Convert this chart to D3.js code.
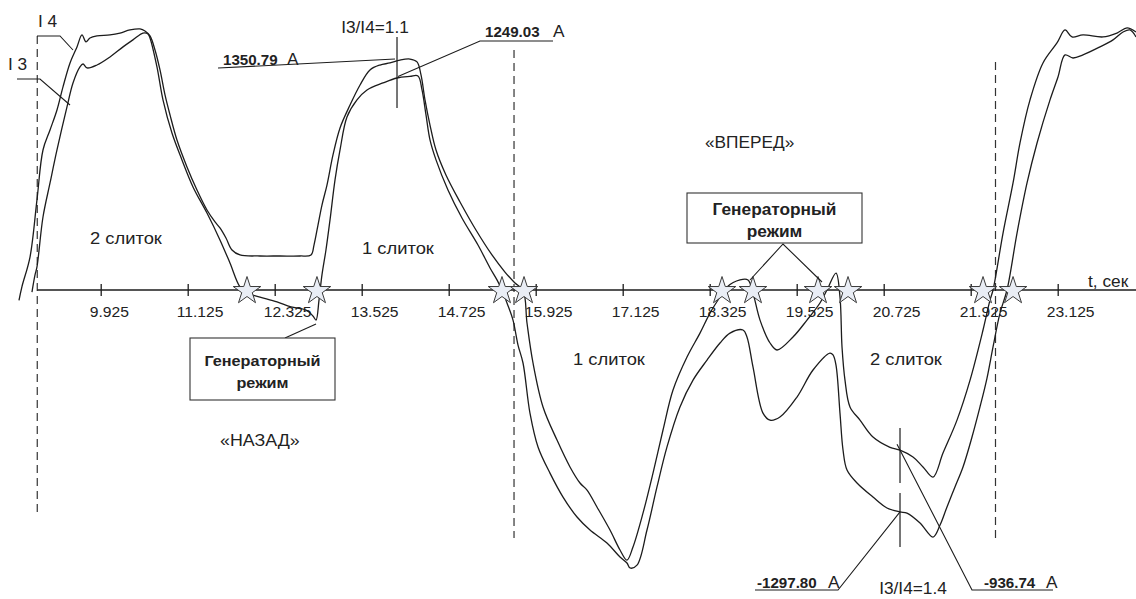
<!DOCTYPE html>
<html><head><meta charset="utf-8">
<script src="https://cdn.jsdelivr.net/npm/d3@7/dist/d3.min.js"></script>
<style>
html,body{margin:0;padding:0;background:#fff;}
svg{display:block;font-family:"Liberation Sans",Arial,sans-serif;}
</style></head>
<body><svg id="c" width="1136" height="599"></svg>
<script>
// ---- data (time, s ; current, A) ----
const i4Time = [8.798,8.839,8.950,9.046,9.129,9.226,9.322,9.405,9.502,9.598,9.667,9.722,9.777,9.874,10.053,10.191,10.329,10.467,10.536,10.605,10.674,10.743,10.812,10.881,10.977,11.115,11.253,11.391,11.502,11.570,11.653,11.736,11.846,12.122,12.398,12.674,12.826,12.867,12.922,12.977,13.046,13.129,13.226,13.364,13.502,13.639,13.777,13.915,14.053,14.191,14.288,14.343,14.398,14.467,14.550,14.687,14.881,15.101,15.322,15.501,15.639,15.750,15.805,15.888,16.026,16.219,16.398,16.536,16.633,16.770,16.950,17.088,17.184,17.267,17.405,17.543,17.681,17.819,18.012,18.191,18.329,18.467,18.564,18.743,18.853,18.922,19.019,19.157,19.253,19.474,19.667,19.846,19.943,20.067,20.122,20.150,20.191,20.260,20.398,20.577,20.812,20.950,21.129,21.267,21.405,21.543,21.736,21.916,22.095,22.191,22.233,22.371,22.509,22.605,22.743,22.922,23.115,23.226,23.322,23.474,23.750,23.943,24.081,24.205];
const i4Amp = [-60,20,193,527,819,936,1053,1188,1328,1422,1492,1451,1474,1486,1492,1503,1521,1527,1515,1486,1404,1287,1141,1024,877,720,585,468,398,363,304,234,205,199,199,199,205,263,380,497,614,790,948,1082,1199,1287,1316,1328,1345,1351,1334,1258,1112,965,819,673,515,351,205,105,41,0,-193,-427,-684,-878,-1035,-1129,-1170,-1269,-1404,-1521,-1580,-1503,-1305,-1071,-819,-585,-392,-252,-135,-41,18,59,59,-18,-176,-310,-351,-275,-176,-76,0,99,-41,-333,-527,-684,-761,-860,-920,-937,-977,-1035,-1094,-954,-761,-527,-234,-59,0,333,626,860,1112,1328,1445,1521,1480,1492,1480,1503,1533,1509];
const i3Time = [8.977,9.019,9.046,9.129,9.226,9.322,9.460,9.543,9.639,9.681,9.736,9.874,10.053,10.233,10.370,10.508,10.577,10.605,10.701,10.784,10.908,11.046,11.198,11.391,11.570,11.708,11.846,11.943,12.122,12.357,12.550,12.757,12.853,12.895,12.936,12.977,13.032,13.088,13.157,13.226,13.322,13.460,13.598,13.819,14.012,14.191,14.301,14.357,14.412,14.467,14.550,14.715,14.908,15.129,15.295,15.391,15.460,15.529,15.612,15.681,15.750,15.846,15.957,16.122,16.302,16.495,16.674,16.908,17.088,17.184,17.226,17.322,17.460,17.598,17.736,17.915,18.095,18.288,18.467,18.605,18.784,18.839,18.922,19.060,19.157,19.294,19.529,19.750,19.984,20.026,20.067,20.122,20.164,20.219,20.357,20.577,20.770,20.950,21.046,21.226,21.405,21.502,21.598,21.708,21.819,21.943,22.053,22.150,22.233,22.329,22.426,22.564,22.702,22.840,23.019,23.129,23.226,23.336,23.474,23.708,23.888,24.026,24.122,24.205];
const i3Amp = [-12,88,135,427,626,819,1071,1211,1305,1322,1299,1316,1363,1422,1463,1503,1498,1474,1305,1112,918,761,603,450,293,158,18,-18,-41,-70,-99,-117,-152,-176,-59,88,234,410,644,819,1012,1112,1170,1211,1240,1249,1252,1170,1024,878,761,585,421,263,129,59,0,-76,-176,-322,-427,-720,-918,-1071,-1211,-1328,-1404,-1480,-1562,-1597,-1626,-1609,-1404,-1152,-918,-684,-527,-410,-310,-252,-234,-275,-450,-720,-761,-743,-626,-468,-369,-380,-439,-720,-936,-1053,-1129,-1211,-1275,-1298,-1305,-1363,-1445,-1375,-1269,-1152,-1035,-860,-684,-515,-333,-135,0,333,626,860,1112,1246,1375,1357,1375,1422,1463,1509,1521,1480];
const tickValues = [9.925,11.125,12.325,13.525,14.725,15.925,17.125,18.325,19.525,20.725,21.925,23.125];
const starTimes = [11.943,12.908,15.460,15.764,18.495,18.922,19.819,20.233,22.095,22.509];
const dashTimes = [9.050,15.626,22.267];
const ratioTop = {t:14.012, i4:1350.79, i3:1249.03, label:"I3/I4=1.1"};
const ratioBot = {t:20.950, i4:-936.74, i3:-1297.80, label:"I3/I4=1.4"};

const W = 1136, H = 599;
const svg = d3.select("#c");
svg.append("rect").attr("width",W).attr("height",H).attr("fill","#fff");

const x = d3.scaleLinear().domain([9.925, 23.125]).range([100.7, 1057.7]);
const y = d3.scaleLinear().domain([0, 1350]).range([290, 59.2]);
const SX = 1.08;
const ink = "#1c1c1c";

function label(px, py, s, size, weight, anchor) {
  return svg.append("text")
    .attr("transform", `translate(${px},${py}) scale(${SX},1)`)
    .attr("font-size", size).attr("font-weight", weight || "normal")
    .attr("text-anchor", anchor || "start").attr("fill", "#222").text(s);
}
function pline(pts, w) {
  svg.append("path").attr("d", d3.line()(pts)).attr("fill","none")
    .attr("stroke", ink).attr("stroke-width", w || 1.1);
}

// dashed vertical lines
const dashSpan = [[36,515],[50,538],[62,540]];
dashTimes.forEach((t,i) => {
  svg.append("line").attr("x1",x(t)).attr("x2",x(t))
    .attr("y1",dashSpan[i][0]).attr("y2",dashSpan[i][1])
    .attr("stroke","#333").attr("stroke-width",1.2).attr("stroke-dasharray","8,5");
});

// axis
svg.append("line").attr("x1",x(dashTimes[0])).attr("x2",W).attr("y1",y(0)).attr("y2",y(0))
  .attr("stroke",ink).attr("stroke-width",1.6);
const ax = svg.append("g").attr("transform",`translate(0,${y(0)})`)
  .call(d3.axisBottom(x).tickValues(tickValues).tickFormat(d3.format(".3f")).tickSize(5).tickPadding(0));
ax.select(".domain").remove();
ax.selectAll(".tick line").attr("y1",-6).attr("y2",6).attr("stroke",ink).attr("stroke-width",1.3);
ax.selectAll(".tick text").attr("fill","#222").attr("font-size",14.5)
  .attr("font-family",'"Liberation Sans",Arial,sans-serif')
  .attr("text-anchor","start").attr("dy",null)
  .attr("transform",`translate(-11.5,27) scale(${SX},1)`).attr("y",0);
label(1088, 287, "t, сек", 16);

// curves
const line = d3.line().x(d => x(d[0])).y(d => y(d[1])).curve(d3.curveCatmullRom.alpha(0.5));
const i4 = i4Time.map((t,k) => [t, i4Amp[k]]);
const i3 = i3Time.map((t,k) => [t, i3Amp[k]]);
[i4, i3].forEach(s => svg.append("path").datum(s).attr("d", line)
  .attr("fill","none").attr("stroke",ink).attr("stroke-width",1.3).attr("stroke-linejoin","round"));

// stars
svg.selectAll("path.star").data(starTimes).join("path").attr("class","star")
  .attr("d", d3.symbol(d3.symbolStar).size(235)())
  .attr("transform", t => `translate(${x(t)},${y(0)+1})`)
  .attr("fill","#e9edf5").attr("stroke","#3a3a3a").attr("stroke-width",1);

// series labels
label(38, 27, "I 4", 16);
pline([[37,36],[60,36],[73,50]]);
label(8, 70, "I 3", 16);
pline([[17,79],[40,79],[70,105]]);

// top ratio annotation
const tx = x(ratioTop.t);
svg.append("line").attr("x1",tx).attr("x2",tx).attr("y1",37).attr("y2",108).attr("stroke",ink).attr("stroke-width",1.2);
label(tx-22, 33, ratioTop.label, 16, "normal", "middle");
pline([[218,68],[tx-2, y(ratioTop.i4)]]);
label(223, 65, ratioTop.i4.toFixed(2), 14, "bold");
label(287, 65, "A", 16);
pline([[tx+1, y(ratioTop.i3)],[480,41],[553,41]]);
label(485, 37, ratioTop.i3.toFixed(2), 14, "bold");
label(553, 37, "A", 16);

// bottom ratio annotation
const bx = x(ratioBot.t);
svg.append("line").attr("x1",bx).attr("x2",bx).attr("y1",428).attr("y2",483).attr("stroke",ink).attr("stroke-width",1.2);
svg.append("line").attr("x1",bx).attr("x2",bx).attr("y1",493).attr("y2",547).attr("stroke",ink).attr("stroke-width",1.2);
label(bx+13, 594, ratioBot.label, 16, "normal", "middle");
pline([[755,590],[838,590],[bx, y(ratioBot.i3)]]);
label(757, 588, ratioBot.i3.toFixed(2), 14, "bold");
label(828, 588, "A", 16);
pline([[bx-3, y(ratioBot.i4)-6],[972,590],[1053,590]]);
label(984, 588, ratioBot.i4.toFixed(2), 14, "bold");
label(1046, 588, "A", 16);

// region labels
label(90, 244, "2 слиток", 17);
label(362, 254, "1 слиток", 17);
label(573, 365, "1 слиток", 17);
label(870, 365, "2 слиток", 17);
label(705, 148, "«ВПЕРЕД»", 16);
label(220, 446, "«НАЗАД»", 16.5);

// callout boxes
function box(x0, y0, w, h, fs) {
  svg.append("rect").attr("x",x0).attr("y",y0).attr("width",w).attr("height",h)
    .attr("fill","#fff").attr("stroke","#333").attr("stroke-width",1.1);
  label(x0+w/2, y0+h/2-3, "Генераторный", fs, "bold", "middle");
  label(x0+w/2, y0+h/2+19, "режим", fs, "bold", "middle");
}
pline([[285,338],[x(12.895), y(-176)+4]]);
box(190, 338, 145, 62, 15);
pline([[750,280],[783,244],[822,282]]);
box(687, 193, 175, 50, 16);
</script></body></html>
